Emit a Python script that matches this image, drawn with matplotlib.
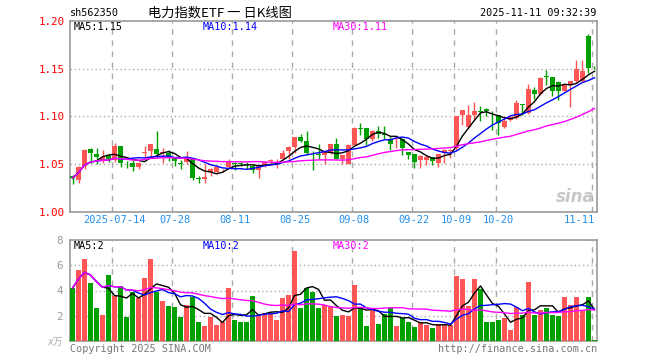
import numpy as np
import pandas as pd
import matplotlib
matplotlib.use('Agg')
import matplotlib.pyplot as plt

# trading days shown (National Day holiday 10-01 .. 10-08 closed)
dates = pd.bdate_range('2025-07-03', '2025-11-11')
dates = dates[(dates < '2025-10-01') | (dates > '2025-10-08')]

opens = [1.038, 1.034, 1.048, 1.066, 1.061, 1.053, 1.0584, 1.054, 1.069, 1.0516,
         1.0516, 1.0474, 1.062, 1.0636, 1.066, 1.0616, 1.062, 1.0566, 1.0506, 1.0525,
         1.0566, 1.0347, 1.0342, 1.042, 1.042, 1.0435, 1.047, 1.0506, 1.0504, 1.050,
         1.048, 1.0445, 1.048, 1.053, 1.053, 1.056, 1.0643, 1.0684, 1.0787, 1.0746,
         1.0552, 1.0603, 1.0595, 1.0619, 1.0712, 1.055, 1.0505, 1.0705, 1.0877, 1.0877,
         1.0764, 1.085, 1.0812, 1.0768, 1.0765, 1.0768, 1.0629, 1.0608, 1.0542, 1.0542,
         1.0573, 1.0518, 1.0619, 1.0636, 1.067, 1.1011, 1.0886, 1.1018, 1.1048, 1.108,
         1.0951, 1.1011, 1.0886, 1.0963, 1.0983, 1.1123, 1.1036, 1.1279, 1.1234, 1.142,
         1.141, 1.1361, 1.1271, 1.1334, 1.1368, 1.1375, 1.1847, 1.1516]
highs = [1.039, 1.048, 1.066, 1.067, 1.067, 1.065, 1.061, 1.072, 1.069, 1.053,
         1.054, 1.052, 1.069, 1.0716, 1.085, 1.067, 1.065, 1.058, 1.054, 1.0636,
         1.057, 1.038, 1.050, 1.046, 1.047, 1.045, 1.055, 1.0525, 1.052, 1.052,
         1.050, 1.049, 1.053, 1.056, 1.055, 1.065, 1.069, 1.079, 1.0815, 1.085,
         1.0643, 1.071, 1.065, 1.0712, 1.078, 1.060, 1.0712, 1.089, 1.093, 1.0877,
         1.0855, 1.0896, 1.0896, 1.080, 1.0775, 1.0775, 1.063, 1.0608, 1.060, 1.0594,
         1.0575, 1.061, 1.0656, 1.066, 1.1003, 1.107, 1.112, 1.1157, 1.1115, 1.1085,
         1.1053, 1.102, 1.1003, 1.1018, 1.1174, 1.113, 1.1337, 1.1313, 1.141, 1.1487,
         1.1417, 1.137, 1.1334, 1.1375, 1.1594, 1.1594, 1.1861, 1.153]
lows = [1.029, 1.030, 1.045, 1.051, 1.0505, 1.0516, 1.052, 1.052, 1.047, 1.0463,
        1.0426, 1.045, 1.057, 1.057, 1.057, 1.051, 1.053, 1.048, 1.0455, 1.0504,
        1.0335, 1.030, 1.030, 1.0375, 1.041, 1.0415, 1.046, 1.0442, 1.048, 1.0455,
        1.041, 1.0355, 1.047, 1.0505, 1.046, 1.055, 1.055, 1.062, 1.073, 1.0595,
        1.0435, 1.056, 1.0505, 1.061, 1.055, 1.0505, 1.050, 1.0705, 1.081, 1.0705,
        1.074, 1.077, 1.076, 1.0653, 1.067, 1.0594, 1.055, 1.0456, 1.0456, 1.0487,
        1.0487, 1.047, 1.0515, 1.0566, 1.065, 1.0914, 1.088, 1.0966, 1.0949, 1.100,
        1.0862, 1.081, 1.0879, 1.0949, 1.0976, 1.1018, 1.1025, 1.1185, 1.122, 1.1331,
        1.1212, 1.1177, 1.1264, 1.1101, 1.135, 1.1361, 1.1455, 1.150]
closes = [1.0356, 1.047, 1.065, 1.0615, 1.058, 1.0577, 1.056, 1.069, 1.0516, 1.051,
          1.0474, 1.051, 1.0626, 1.0716, 1.061, 1.063, 1.058, 1.053, 1.0504, 1.0566,
          1.036, 1.0345, 1.037, 1.0455, 1.047, 1.044, 1.0525, 1.0504, 1.050, 1.0497,
          1.0445, 1.048, 1.0525, 1.054, 1.0539, 1.062, 1.0684, 1.0787, 1.0746, 1.062,
          1.055, 1.060, 1.0636, 1.0712, 1.056, 1.0595, 1.0705, 1.0877, 1.0865, 1.0767,
          1.0851, 1.0817, 1.081, 1.0716, 1.0768, 1.067, 1.0594, 1.0522, 1.059, 1.0573,
          1.0532, 1.0608, 1.0653, 1.0653, 1.100, 1.107, 1.1018, 1.106, 1.1046, 1.1053,
          1.0949, 1.0932, 1.0949, 1.0997, 1.1139, 1.112, 1.1289, 1.1234, 1.1407, 1.1417,
          1.1265, 1.1271, 1.1327, 1.1375, 1.1493, 1.1479, 1.1507, 1.1514]
# volume, x10k
volumes = [4.19, 5.63, 6.5, 4.59, 2.59, 2.03, 5.2, 3.6, 4.32, 1.87,
           3.87, 3.39, 4.99, 6.5, 3.87, 3.2, 2.75, 2.67, 1.87, 2.88,
           3.52, 1.52, 1.15, 1.87, 1.28, 1.52, 4.19, 1.68, 1.47, 1.52,
           3.6, 1.95, 2.21, 2.13, 1.68, 3.39, 3.68, 7.15, 2.59, 4.19,
           3.92, 2.59, 2.85, 2.7, 1.95, 2.08, 1.95, 4.4, 2.59, 1.2,
           2.43, 1.36, 2.16, 2.59, 1.2, 1.79, 1.52, 1.12, 1.52, 1.28,
           1.04, 1.36, 1.28, 1.28, 5.12, 4.88, 2.8, 4.88, 4.13, 1.52,
           1.52, 1.68, 1.84, 0.88, 2.67, 2.08, 4.64, 2.08, 2.48, 2.64,
           2.08, 2.0, 3.52, 2.88, 3.47, 2.48, 3.52, 0.08]

tick_dates = ['2025-07-14', '2025-07-28', '2025-08-11', '2025-08-25', '2025-09-08',
              '2025-09-22', '2025-10-09', '2025-10-20', '2025-11-11']
tick_labels = ['2025-07-14', '07-28', '08-11', '08-25', '09-08',
               '09-22', '10-09', '10-20', '11-11']
price_ticks = [1.00, 1.05, 1.10, 1.15, 1.20]
vol_ticks = [2, 4, 6, 8]
ma_windows = [5, 10, 30]
ma_colors = ['black', '#0000ff', '#ff00ff']

RED = '#ff5555'
GREEN = '#00a000'
GRID = '#aaaaaa'
MONO = 'DejaVu Sans Mono'

o = np.array(opens); h = np.array(highs); l = np.array(lows); c = np.array(closes)
v = np.array(volumes)
x = np.arange(len(c))
up = c >= o
colors = np.where(up, RED, GREEN)
tick_pos = [dates.get_loc(pd.Timestamp(d)) for d in tick_dates]

fig = plt.figure(figsize=(6.6, 3.6), dpi=100)
W, H = 660, 360
def box(x0, y0, x1, y1):
    return [x0 / W, 1 - y1 / H, (x1 - x0) / W, (y1 - y0) / H]

ax = fig.add_axes(box(70, 21, 597, 212))
axv = fig.add_axes(box(70, 240, 597, 341))

# candles
ax.vlines(x, l, h, colors=colors, lw=1, zorder=3)
body = np.maximum(np.abs(c - o), 0.0008)
ax.bar(x, body, bottom=np.minimum(o, c), width=0.8, color=colors, lw=0, zorder=4)

close_s = pd.Series(c)
ma_price = [close_s.rolling(n, min_periods=1).mean() for n in ma_windows]
for m, col in zip(ma_price, ma_colors):
    ax.plot(x, m, color=col, lw=1, zorder=5)

# volume
axv.bar(x, v, width=0.8, color=colors, lw=0, zorder=3)
vol_s = pd.Series(v)
ma_vol = [vol_s.rolling(n, min_periods=1).mean() for n in ma_windows]
for m, col in zip(ma_vol, ma_colors):
    axv.plot(x, m, color=col, lw=1, zorder=5)

for a in (ax, axv):
    a.set_xlim(-0.42, len(c) - 0.58)
    for p in tick_pos:
        a.axvline(p - 0.4, color=GRID, lw=1, ls=(0, (4, 4)), zorder=1)
    for s in a.spines.values():
        s.set_color('#999999')
        s.set_linewidth(1.2)
    a.tick_params(length=0)

ax.set_ylim(1.0, 1.2)
ax.set_yticks(price_ticks)
ax.set_yticklabels([f'{t:.2f}' for t in price_ticks], color='red', family=MONO, fontsize=7.8)
ax.tick_params(axis='y', pad=4)
for t in price_ticks[1:-1]:
    ax.axhline(t, color=GRID, lw=1, ls=(0, (1, 2)), zorder=1)
ax.set_xticks(tick_pos)
ax.set_xticklabels(tick_labels, color='#2090f0', family=MONO, fontsize=7.5)
ax.tick_params(axis='x', pad=2)
ax.get_xticklabels()[-1].set_ha('right')

axv.set_ylim(0, 8)
axv.set_yticks(vol_ticks)
axv.set_yticklabels([str(t) for t in vol_ticks], color='#999999', family=MONO, fontsize=7.8)
axv.tick_params(axis='y', pad=5)
for t in vol_ticks[:-1]:
    axv.axhline(t, color=GRID, lw=1, ls=(0, (1, 2)), zorder=1)
axv.set_xticks([])

# legends
lx = [74, 203, 333]
for i, n in enumerate(ma_windows):
    fig.text(lx[i] / W, 1 - 27 / H, f'MA{n}:{ma_price[i].iloc[-1]:.2f}',
             color=ma_colors[i], family=MONO, fontsize=7.3, va='center')
    fig.text(lx[i] / W, 1 - 246 / H, f'MA{n}:{int(ma_vol[i].iloc[-1])}',
             color=ma_colors[i], family=MONO, fontsize=7.3, va='center')

# header
fig.text(70 / W, 1 - 13 / H, 'sh562350', family=MONO, fontsize=7.3, va='center')
fig.text(148 / W, 1 - 13 / H, '电力指数ETF 一 日K线图', family=['Noto Sans CJK SC', 'DejaVu Sans'],
         fontsize=9.5, va='center')
fig.text(596 / W, 1 - 13 / H, '2025-11-11 09:32:39', family=MONO, fontsize=7.3,
         va='center', ha='right')

# footer
fig.text(63 / W, 1 - 342 / H, 'x万', family=[MONO, 'Noto Sans CJK SC'], fontsize=7,
         color='#aaaaaa', ha='right', va='center', style='italic')
fig.text(70 / W, 1 - 349 / H, 'Copyright 2025 SINA.COM', family=MONO, fontsize=7.3,
         color='#777777', va='center')
fig.text(597 / W, 1 - 349 / H, 'http://finance.sina.com.cn', family=MONO, fontsize=7.3,
         color='#777777', va='center', ha='right')

# watermark
ax.text(0.995, 0.03, 'sina', transform=ax.transAxes, ha='right', va='bottom',
        fontsize=12, fontweight='bold', style='italic', color='#c8c8c8', zorder=2)

fig.savefig('out.png', dpi=100)
